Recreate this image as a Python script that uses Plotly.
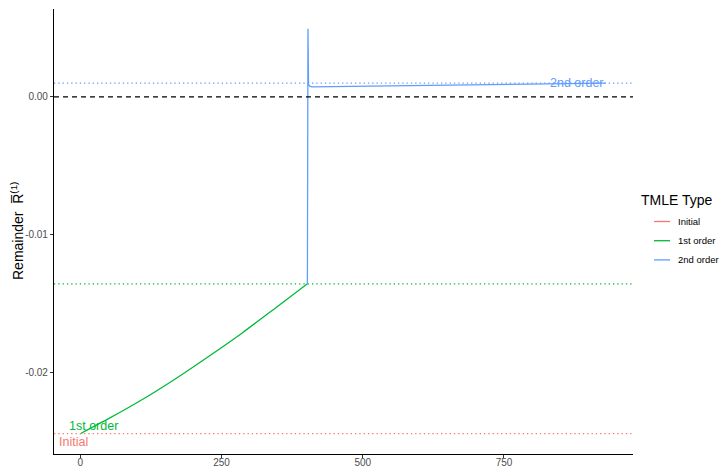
import plotly.graph_objects as go

# TMLE remainder trajectories by iteration
tmle_types = ["Initial", "1st order", "2nd order"]
type_colors = ["#F8766D", "#00BA38", "#619CFF"]

iter_first = [0, 50, 109, 168, 227, 286, 345, 402]
rem_first = [-0.02442, -0.02333, -0.02196, -0.02045, -0.01882, -0.01713, -0.01532, -0.01355]

iter_second = [402, 403, 404, 406, 410, 930]
rem_second = [-0.01355, 0.00493, 0.00090, 0.00078, 0.00072, 0.00099]

# final remainder reached by each TMLE type (dotted reference lines)
final_rem = [-0.02442, -0.01355, 0.00099]

# in-panel label positions
label_x = [-12, 23, 879]
label_y = [-0.0250, -0.02384, 0.00101]

x_ticks = [0, 250, 500, 750]
y_ticks = [-0.02, -0.01, 0.00]
y_tick_text = ["-0.02", "-0.01", "0.00"]

FONT = "Liberation Sans, Arial, sans-serif"
L, R, T, B = 54, 87, 9, 13
W, H = 720, 467
pw, ph = W - L - R, H - T - B


def px_x(p):
    return (p - L) / pw


def px_y(p):
    return (H - B - p) / ph


fig = go.Figure()

# reference lines
fig.add_hline(y=0, line=dict(color="black", width=1.1, dash="5px,4px"))
for val, col in zip(final_rem, type_colors):
    fig.add_hline(y=val, line=dict(color=col, width=1.2, dash="1.3px,3px"))

fig.add_trace(go.Scatter(x=iter_first, y=rem_first, mode="lines",
                         line=dict(color=type_colors[1], width=1.3, shape="spline", smoothing=0.6),
                         name=tmle_types[1], showlegend=False))
fig.add_trace(go.Scatter(x=iter_second, y=rem_second, mode="lines",
                         line=dict(color=type_colors[2], width=1.3),
                         name=tmle_types[2], showlegend=False))

# in-panel labels
for name, col, lx, ly in zip(tmle_types, type_colors, label_x, label_y):
    fig.add_annotation(x=lx, y=ly, text=name, showarrow=False,
                       font=dict(family=FONT, size=12.5, color=col),
                       xanchor="center", yanchor="middle")

# legend
fig.add_annotation(xref="paper", yref="paper", x=px_x(639), y=px_y(200),
                   text="TMLE Type", showarrow=False, xanchor="left", yanchor="middle",
                   font=dict(family=FONT, size=14, color="black"))
for i, (name, col) in enumerate(zip(tmle_types, type_colors)):
    ry = 221.5 + i * 19.2
    fig.add_shape(type="line", xref="paper", yref="paper",
                  x0=px_x(654), x1=px_x(670), y0=px_y(ry), y1=px_y(ry),
                  line=dict(color=col, width=1.3))
    fig.add_annotation(xref="paper", yref="paper", x=px_x(676), y=px_y(ry),
                       text=name, showarrow=False, xanchor="left", yanchor="middle",
                       font=dict(family=FONT, size=9.5, color="black"))

# y-axis title
fig.add_annotation(xref="paper", yref="paper", x=px_x(17), y=px_y(231),
                   text="Remainder  R\u0305<sup>(1)</sup>", textangle=-90,
                   showarrow=False, xanchor="center", yanchor="middle",
                   font=dict(family=FONT, size=14, color="black"))

fig.update_layout(
    width=W, height=H,
    margin=dict(l=L, r=R, t=T, b=B),
    plot_bgcolor="white", paper_bgcolor="white",
    showlegend=False,
    xaxis=dict(range=[-46.6, 978.4], tickvals=x_ticks, showgrid=False, zeroline=False,
               showline=True, linecolor="black", linewidth=1.1,
               ticks="outside", ticklen=3, tickwidth=1, tickcolor="#333333",
               ticklabelstandoff=-4,
               tickfont=dict(family=FONT, size=10, color="#4D4D4D"), automargin=False),
    yaxis=dict(range=[-0.02589, 0.00637], tickvals=y_ticks, ticktext=y_tick_text,
               showgrid=False, zeroline=False,
               showline=True, linecolor="black", linewidth=1.1,
               ticks="outside", ticklen=3, tickwidth=1, tickcolor="#333333",
               tickfont=dict(family=FONT, size=10, color="#4D4D4D"), automargin=False),
)

fig.write_html("out.html")
